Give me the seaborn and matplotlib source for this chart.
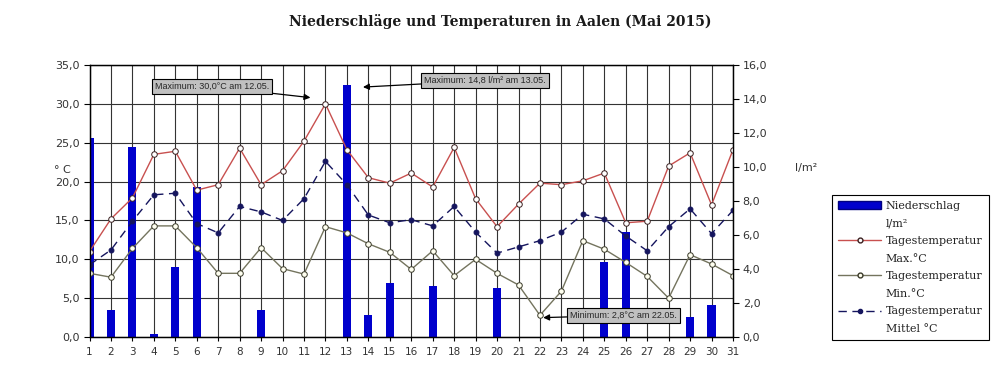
import matplotlib
matplotlib.use('Agg')
import matplotlib.pyplot as plt
from matplotlib.lines import Line2D
from matplotlib.patches import Patch
from matplotlib.ticker import FuncFormatter
import seaborn as sns
import pandas as pd
import numpy as np

# ── Daten: Aalen, Mai 2015 ─────────────────────────────────────
days = list(range(1, 32))
rain = [11.7, 1.6, 11.2, 0.2, 4.1, 8.8, 0.0, 0.0, 1.6, 0.0, 0.0, 0.0, 14.8, 1.3, 3.2, 0.0,
        3.0, 0.0, 0.0, 2.9, 0.0, 0.0, 0.0, 0.0, 4.4, 6.2, 0.0, 0.0, 1.2, 1.9, 0.0]
tmax = [11.0, 15.2, 17.9, 23.5, 23.9, 18.9, 19.6, 24.3, 19.6, 21.4, 25.2, 30.0, 24.1, 20.5, 19.8, 21.1,
        19.3, 24.4, 17.8, 14.2, 17.1, 19.8, 19.6, 20.1, 21.1, 14.7, 14.9, 22.0, 23.7, 17.0, 24.1]
tmin = [8.2, 7.7, 11.4, 14.3, 14.3, 11.5, 8.2, 8.2, 11.5, 8.8, 8.1, 14.2, 13.4, 12.0, 10.9, 8.7,
        11.1, 7.9, 10.0, 8.2, 6.7, 2.8, 5.9, 12.4, 11.3, 9.6, 7.8, 5.0, 10.6, 9.4, 7.9]
tmean = [9.3, 11.2, 14.9, 18.3, 18.5, 14.6, 13.4, 16.8, 16.1, 15.0, 17.8, 22.6, 19.6, 15.7, 14.7, 15.1,
         14.3, 16.8, 13.5, 10.8, 11.6, 12.4, 13.5, 15.8, 15.2, 13.0, 11.1, 14.2, 16.5, 13.3, 16.3]

temp_ticks = list(range(0, 36, 5))
rain_ticks = list(range(0, 17, 2))
TEMP_TOP, RAIN_TOP = 35, 16

RED = '#c8504f'
OLIVE = '#74745e'
NAVY = '#15155e'
BLUE = '#0000cc'
GRID = '#333333'

sns.set_style('ticks')
plt.rcParams['font.family'] = ['DejaVu Sans']

df = pd.DataFrame({'Tag': days, 'Niederschlag': rain, 'Max': tmax, 'Min': tmin, 'Mittel': tmean})


def komma(v, pos=None):
    return f'{v:.1f}'.replace('.', ',')


fig = plt.figure(figsize=(10, 3.8), dpi=100)
ax = fig.add_axes([0.0895, 0.113, 0.6435, 0.716])
ax2 = ax.twinx()
# Linien über den Balken, Gitter unter den Balken
ax.set_zorder(2)
ax.patch.set_visible(False)
ax2.set_zorder(1)

# Gitter (liegt in der unteren Achse)
for d in days:
    ax2.axvline(d, color=GRID, lw=0.8, zorder=0)
for t in temp_ticks:
    ax2.axhline(t * RAIN_TOP / TEMP_TOP, color=GRID, lw=0.8, zorder=0)

sns.barplot(data=df, x='Tag', y='Niederschlag', native_scale=True, width=0.38,
            color=BLUE, saturation=1, linewidth=0, errorbar=None, ax=ax2, zorder=2)

sns.lineplot(data=df, x='Tag', y='Max', ax=ax, color=RED, linewidth=1,
             marker='o', markersize=4, markerfacecolor='white',
             markeredgecolor='#3a2020', markeredgewidth=0.7)
sns.lineplot(data=df, x='Tag', y='Min', ax=ax, color=OLIVE, linewidth=1,
             marker='o', markersize=4, markerfacecolor='#fffff0',
             markeredgecolor='#3a3a2a', markeredgewidth=0.7)
sns.lineplot(data=df, x='Tag', y='Mittel', ax=ax, color=NAVY, linewidth=1,
             linestyle=(0, (6, 4)), marker='o', markersize=3.5,
             markerfacecolor=NAVY, markeredgecolor=NAVY)

ax.set_xlim(1, 31)
ax.set_ylim(0, TEMP_TOP)
ax2.set_ylim(0, RAIN_TOP)
ax.set_xticks(days)
ax.set_yticks(temp_ticks)
ax2.set_yticks(rain_ticks)
ax.yaxis.set_major_formatter(FuncFormatter(komma))
ax2.yaxis.set_major_formatter(FuncFormatter(komma))
for a in (ax, ax2):
    a.set_xlabel('')
    a.set_ylabel('')
    for s in a.spines.values():
        s.set_color('black')
        s.set_linewidth(0.9)

ax.tick_params(axis='y', direction='out', length=4, width=0.8, color='black',
               labelsize=8, labelcolor='#333333', pad=3)
ax.tick_params(axis='x', direction='out', length=3, width=0.8, color='black',
               labelsize=7.5, labelcolor='#333333', pad=4)
ax2.tick_params(axis='y', direction='out', length=4, width=0.8, color='black',
                labelsize=8, labelcolor='#333333', pad=3)

fig.text(0.5, 0.943, 'Niederschläge und Temperaturen in Aalen (Mai 2015)',
         ha='center', va='center', family='DejaVu Serif', fontsize=10,
         fontweight='bold', color='#1a1a1a')
fig.text(0.062, 1 - 170 / 380, '° C', ha='center', va='center', fontsize=8, color='#333333')
fig.text(0.806, 1 - 168 / 380, 'l/m²', ha='center', va='center', fontsize=8, color='#333333')

# ── Beschriftungen mit Pfeil ──────────────────────────────────
box = dict(boxstyle='square,pad=0.35', fc='#c0c0c0', ec='black', lw=0.8)
arrow = dict(arrowstyle='-|>', color='black', lw=0.9, mutation_scale=9, shrinkA=0, shrinkB=0)

i = int(np.argmax(tmax))
ax.annotate(f'Maximum: {komma(tmax[i])}°C am {days[i]:02d}.05.',
            xy=(days[i] - 0.7, tmax[i] + 0.8), xytext=(-71, 8), textcoords='offset points',
            ha='center', va='center', fontsize=6.5, family='Liberation Sans',
            bbox=box, arrowprops=arrow)

j = int(np.argmax(rain))
ax2.annotate(f'Maximum: {komma(rain[j])} l/m² am {days[j]:02d}.05.',
             xy=(days[j] + 0.75, rain[j] - 0.1), xytext=(88, 4.7), textcoords='offset points',
             ha='center', va='center', fontsize=6.5, family='Liberation Sans',
             bbox=box, arrowprops=arrow)

k = int(np.argmin(tmin))
ax.annotate(f'Minimum: {komma(tmin[k])}°C am {days[k]:02d}.05.',
            xy=(days[k] + 0.15, tmin[k] - 0.3), xytext=(58, 1.7), textcoords='offset points',
            ha='center', va='center', fontsize=6.5, family='Liberation Sans',
            bbox=box, arrowprops=arrow)

# ── Legende ───────────────────────────────────────────────────
blank = Line2D([], [], color='none')
handles = [
    Patch(facecolor=BLUE, edgecolor='#000080'), blank,
    Line2D([], [], color=RED, lw=1, marker='o', markersize=3.5,
           markerfacecolor='white', markeredgecolor='#3a2020'), blank,
    Line2D([], [], color=OLIVE, lw=1, marker='o', markersize=3.5,
           markerfacecolor='#fffff0', markeredgecolor='#3a3a2a'), blank,
    Line2D([], [], color=NAVY, lw=1, linestyle=(0, (6, 4)), marker='o', markersize=3,
           markerfacecolor=NAVY, markeredgecolor=NAVY), blank,
]
labels = ['Niederschlag', 'l/m²', 'Tagestemperatur', 'Max.°C',
          'Tagestemperatur', 'Min.°C', 'Tagestemperatur', 'Mittel °C']
leg = fig.legend(handles, labels, loc='upper left', bbox_to_anchor=(0.832, 1 - 195 / 380),
                 frameon=True, fancybox=False, edgecolor='black', framealpha=1,
                 prop=dict(family='DejaVu Serif', size=8), handlelength=3.9,
                 handletextpad=0.4, labelspacing=0.68, borderpad=0.55, borderaxespad=0)
leg.get_frame().set_linewidth(0.8)
for t in leg.get_texts():
    t.set_color('#222222')

fig.savefig('out.png', dpi=100, facecolor='white')
plt.close(fig)
